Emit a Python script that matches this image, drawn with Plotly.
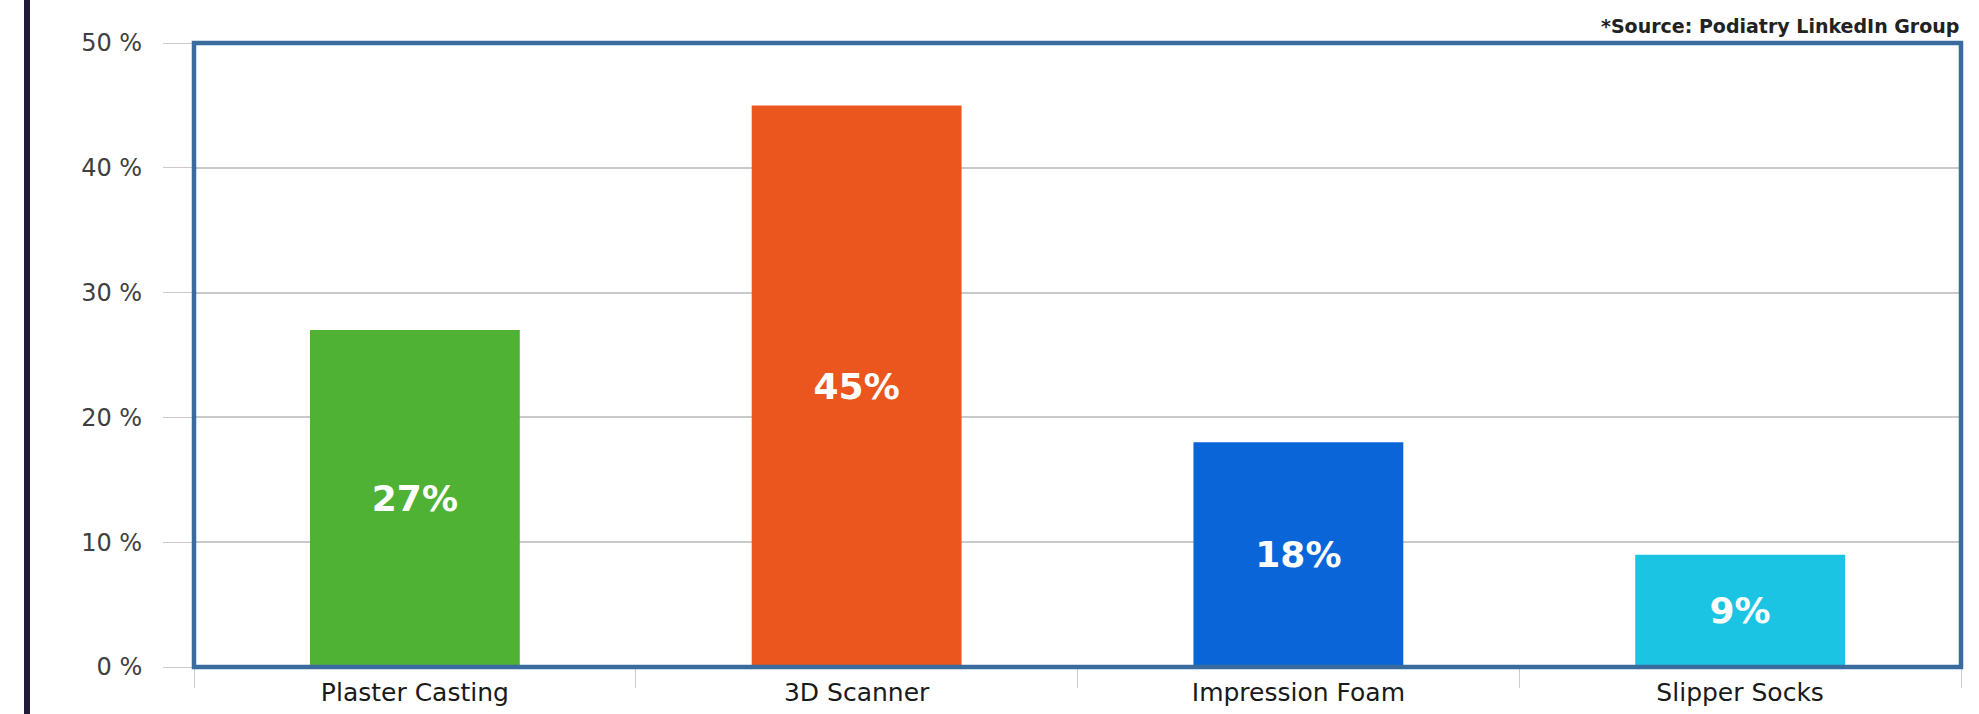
import plotly.graph_objects as go

categories = ["Plaster Casting", "3D Scanner", "Impression Foam", "Slipper Socks"]
values = [27, 45, 18, 9]
bar_colors = ["#4fb234", "#ea561d", "#0a66d8", "#1cc4e4"]
y_tickvals = [0, 10, 20, 30, 40, 50]
y_ticktext = ["0 %", "10 %", "20 %", "30 %", "40 %", "50 %"]
source_text = "*Source: Podiatry LinkedIn Group"

W, H = 1979, 714
ml, mr, mt, mb = 194, 18, 43, 47
pw = W - ml - mr
ph = H - mt - mb

fig = go.Figure()
fig.add_trace(go.Bar(
    x=categories,
    y=values,
    marker=dict(color=bar_colors, line=dict(width=0)),
    texttemplate="%{y}%",
    textposition="inside",
    insidetextanchor="middle",
    textangle=0,
    textfont=dict(family="DejaVu Sans", size=36, color="white", weight="bold"),
    hoverinfo="skip",
))

fig.update_layout(
    width=W, height=H, autosize=False,
    margin=dict(l=ml, r=mr, t=mt, b=mb, pad=0),
    paper_bgcolor="white",
    plot_bgcolor="white",
    bargap=0.525,
    showlegend=False,
    xaxis=dict(
        type="category",
        automargin=False,
        showgrid=False,
        showline=False,
        zeroline=False,
        ticks="outside",
        tickson="boundaries",
        ticklen=20,
        tickwidth=1,
        tickcolor="#c8ccd2",
        tickfont=dict(family="DejaVu Sans", size=25, color="#1a1a1a"),
        ticklabelstandoff=8,
    ),
    yaxis=dict(
        range=[0, 50],
        automargin=False,
        tickvals=y_tickvals,
        ticktext=y_ticktext,
        showgrid=True,
        gridcolor="#c9c9c9",
        gridwidth=1.5,
        zeroline=False,
        showline=False,
        ticks="outside",
        ticklen=30,
        tickwidth=1,
        tickcolor="#d0c8c8",
        ticklabelstandoff=16,
        tickfont=dict(family="DejaVu Sans", size=24, color="#404040"),
    ),
)

# frame around plot area
fig.add_shape(type="rect", xref="paper", yref="paper", x0=0, x1=1, y0=0, y1=1,
              line=dict(color="#3a6b9f", width=4.5), layer="above")

# dark vertical border at left of image
xl = (27 - ml) / pw
fig.add_shape(type="line", xref="paper", yref="paper", x0=xl, x1=xl, y0=-0.2, y1=1.2,
              line=dict(color="#231b3b", width=6), layer="above")

fig.add_annotation(
    text=source_text, xref="paper", yref="paper",
    x=1, y=1 + (mt - 26) / ph, xanchor="right", yanchor="middle",
    showarrow=False,
    font=dict(family="DejaVu Sans", size=19, color="#222222", weight="bold"),
)

fig.write_html("out.html")
